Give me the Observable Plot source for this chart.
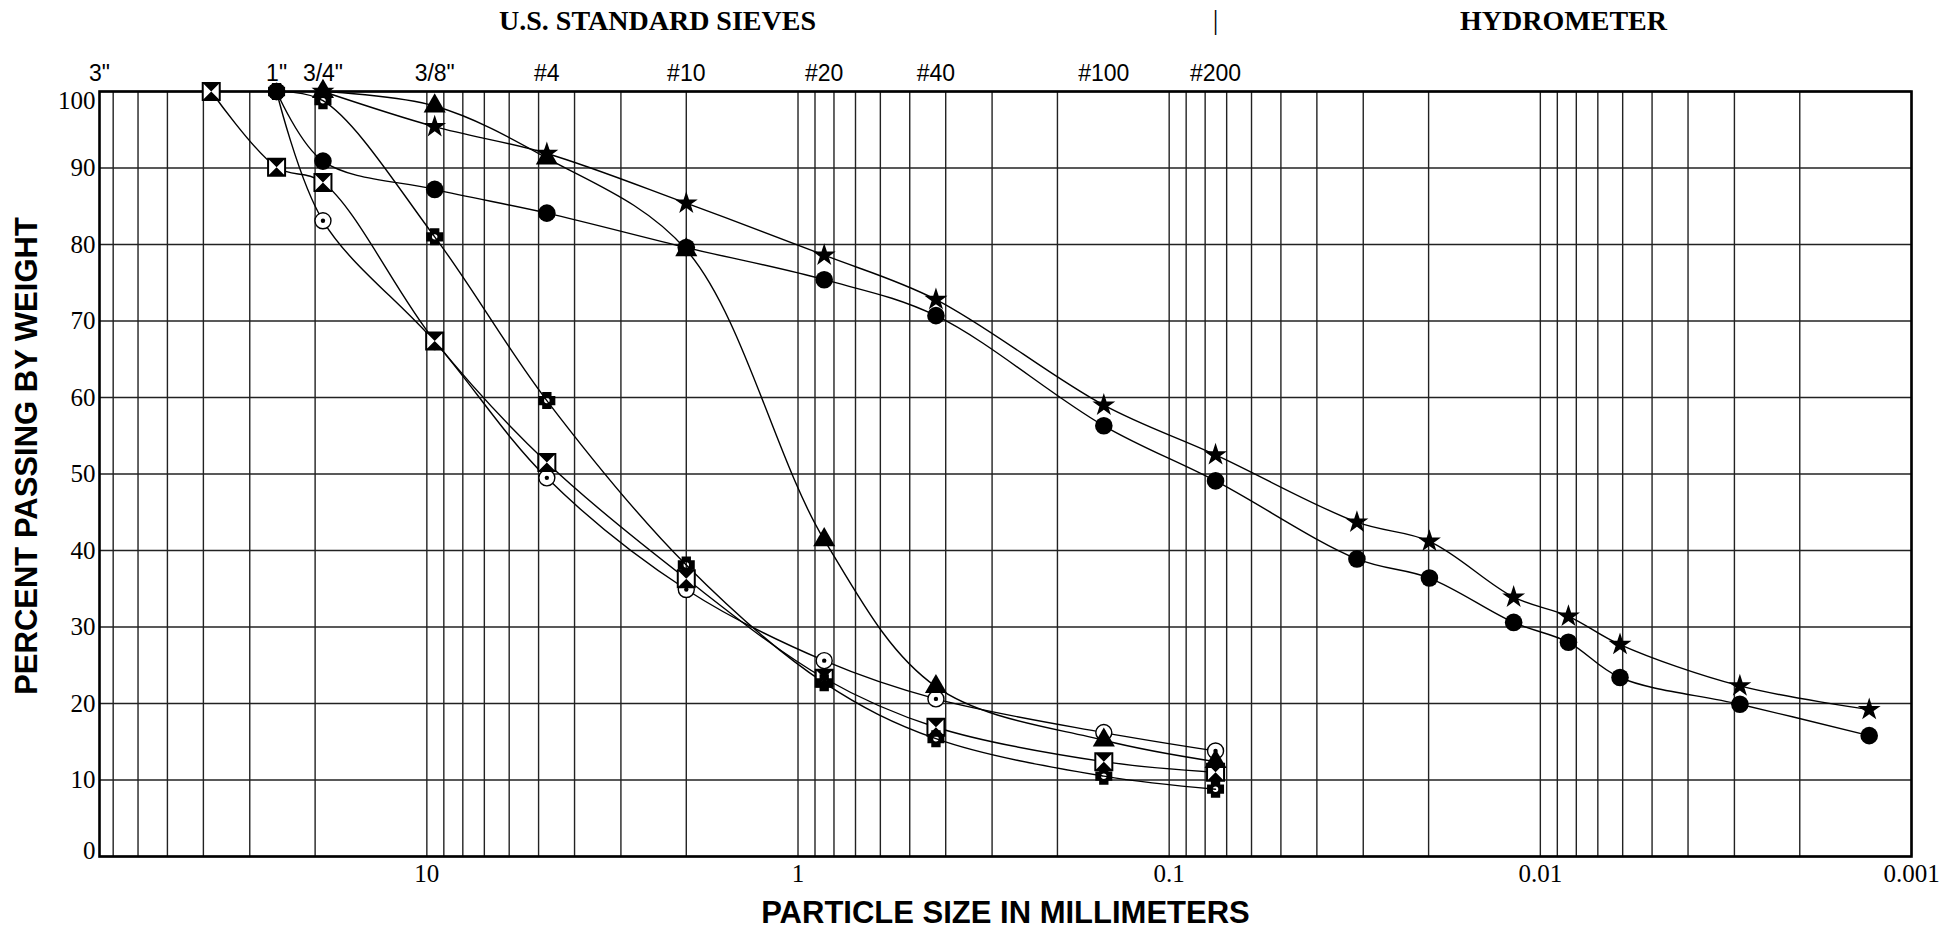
<!DOCTYPE html>
<html>
<head>
<meta charset="utf-8">
<script src="https://cdn.jsdelivr.net/npm/d3@7"></script>
<script src="https://cdn.jsdelivr.net/npm/@observablehq/plot@0.6"></script>
<style>
  html, body { margin: 0; padding: 0; background: #fff; }
  #chart svg { display: block; background: #fff; }
</style>
</head>
<body>
<div id="chart"></div>
<script>
// ---- axis / tick data ----
const yTicks = [0, 10, 20, 30, 40, 50, 60, 70, 80, 90, 100];
const xTickValues = [10, 1, 0.1, 0.01, 0.001];
const xTickLabels = ["10", "1", "0.1", "0.01", "0.001"];
const sieveLabels = ['3"', '1"', '3/4"', '3/8"', '#4', '#10', '#20', '#40', '#100', '#200'];
const sieveSizes = [76.2, 25.4, 19.05, 9.525, 4.75, 2.0, 0.85, 0.425, 0.15, 0.075];

// ---- sample particle sizes (mm) ----
const sampleSieves = [38.1, 25.4, 19.05, 9.525, 4.75, 2.0, 0.85, 0.425, 0.15, 0.075];
const hydroSizes = [0.0312, 0.0199, 0.0118, 0.0084, 0.0061, 0.0029, 0.0013];

// ---- percent passing, one array per sample (null = not tested) ----
const circleSieve   = [null, 100, 90.9, 87.2, 84.1, 79.6, 75.4, 70.7, 56.3, 49.1];
const circleHydro   = [38.9, 36.4, 30.6, 28.0, 23.4, 19.9, 15.8];
const starSieve     = [null, null, 100, 95.4, 91.9, 85.4, 78.6, 72.8, 59.0, 52.5];
const starHydro     = [43.7, 41.2, 33.9, 31.4, 27.7, 22.3, 19.2];
const triangleSieve = [null, null, 100, 98.1, 91.3, 79.3, 41.4, 22.2, 15.2, 12.4];
const plusSieve     = [null, 100, 98.8, 81.0, 59.6, 38.1, 22.7, 15.4, 10.5, 8.8];
const hourglassSieve= [100, 90.1, 88.1, 67.4, 51.5, 36.3, 23.3, 16.9, 12.4, 11.0];
const ringSieve     = [null, 100, 83.1, 67.3, 49.5, 34.9, 25.6, 20.6, 16.2, 13.8];

function build(name, sieveVals, hydroVals) {
  const out = [];
  sieveVals.forEach((v, i) => { if (v != null) out.push({series: name, size: sampleSieves[i], pct: v}); });
  (hydroVals || []).forEach((v, i) => { if (v != null) out.push({series: name, size: hydroSizes[i], pct: v}); });
  return out;
}
const circleData = build("circle", circleSieve, circleHydro);
const starData = build("star", starSieve, starHydro);
const triangleData = build("triangle", triangleSieve);
const plusData = build("plus", plusSieve);
const hourglassData = build("hourglass", hourglassSieve);
const ringData = build("ring", ringSieve);
const allData = [...circleData, ...starData, ...triangleData, ...plusData, ...hourglassData, ...ringData];

// ---- custom symbols ----
const hourglassSym = {
  draw(ctx, size) {
    const s = Math.sqrt(size / Math.PI);
    ctx.moveTo(-s, -s); ctx.lineTo(s, -s); ctx.lineTo(0, 0); ctx.closePath();
    ctx.moveTo(-s, s); ctx.lineTo(s, s); ctx.lineTo(0, 0); ctx.closePath();
  }
};
const squareSym = {
  draw(ctx, size) {
    const s = Math.sqrt(size / Math.PI);
    ctx.moveTo(-s, -s); ctx.lineTo(s, -s); ctx.lineTo(s, s); ctx.lineTo(-s, s); ctx.closePath();
  }
};
const plusSym = {
  draw(ctx, size) {
    const r = Math.sqrt(size / Math.PI);
    const a = 0.55 * r;
    const pts = [[-a,-r],[a,-r],[a,-a],[r,-a],[r,a],[a,a],[a,r],[-a,r],[-a,a],[-r,a],[-r,-a],[-a,-a]];
    ctx.moveTo(pts[0][0], pts[0][1]);
    for (let k = 1; k < pts.length; k++) ctx.lineTo(pts[k][0], pts[k][1]);
    ctx.closePath();
    const h = 0.32 * r;
    ctx.moveTo(h, 0);
    ctx.arc(0, 0, h, 0, 2 * Math.PI, true);
    ctx.closePath();
  }
};

const serif = "Liberation Serif, Times New Roman, serif";
const sans = "Liberation Sans, Arial, sans-serif";

const x0 = sieveSizes[0];
const xSplit = sieveSizes[sieveSizes.length - 1];
const xEnd = xTickValues[xTickValues.length - 1];
const headers = [
  {text: "U.S. STANDARD SIEVES", x: Math.sqrt(x0 * xSplit)},
  {text: "HYDROMETER", x: Math.sqrt(xSplit * xEnd)}
];

const plot = Plot.plot({
  width: 1944,
  height: 931,
  marginLeft: 99,
  marginRight: 33,
  marginTop: 91,
  marginBottom: 75,
  style: {background: "#fff", color: "#000"},
  x: {type: "log", domain: [x0, xEnd], axis: null},
  y: {domain: [0, 100], axis: null},
  marks: [
    Plot.gridX({ticks: 40, stroke: "#222", strokeOpacity: 1, strokeWidth: 1.4}),
    Plot.gridY(yTicks, {stroke: "#222", strokeOpacity: 1, strokeWidth: 1.4}),
    Plot.frame({stroke: "#000", strokeWidth: 2.6}),
    Plot.line(allData, {x: "size", y: "pct", z: "series", curve: "catmull-rom", stroke: "#000", strokeWidth: 1.4}),
    // circle with center dot
    Plot.dot(ringData, {x: "size", y: "pct", r: 8, fill: "#fff", stroke: "#000", strokeWidth: 1.4}),
    Plot.dot(ringData, {x: "size", y: "pct", r: 2.2, fill: "#000"}),
    // hourglass square
    Plot.dot(hourglassData, {x: "size", y: "pct", symbol: squareSym, r: 8.5, fill: "#fff", stroke: "#000", strokeWidth: 2}),
    Plot.dot(hourglassData, {x: "size", y: "pct", symbol: hourglassSym, r: 8.5, fill: "#000"}),
    // plus
    Plot.dot(plusData, {x: "size", y: "pct", symbol: plusSym, r: 8.5, fill: "#000"}),
    // star
    Plot.dot(starData, {x: "size", y: "pct", symbol: "star", r: 7.2, fill: "#000"}),
    // triangle
    Plot.dot(triangleData, {x: "size", y: "pct", symbol: "triangle", r: 8.2, fill: "#000"}),
    // filled circle
    Plot.dot(circleData, {x: "size", y: "pct", symbol: "circle", r: 8.8, fill: "#000"}),

    // y tick labels
    Plot.text(yTicks.filter(d => d > 0 && d < 100), {y: d => d, frameAnchor: "left", textAnchor: "end", dx: -4, text: d => String(d), fontSize: 25, fontFamily: serif}),
    Plot.text(yTicks.filter(d => d === 100), {y: d => d, frameAnchor: "left", textAnchor: "end", dx: -4, dy: 9, text: d => String(d), fontSize: 25, fontFamily: serif}),
    Plot.text(yTicks.filter(d => d === 0), {y: d => d, frameAnchor: "left", textAnchor: "end", dx: -4, dy: -6, text: d => String(d), fontSize: 25, fontFamily: serif}),
    // x tick labels
    Plot.text(xTickValues, {x: d => d, frameAnchor: "bottom", lineAnchor: "top", dy: 8, text: (d, i) => xTickLabels[i], fontSize: 25, fontFamily: serif}),
    // sieve labels
    Plot.text(sieveSizes, {x: d => d, frameAnchor: "top", lineAnchor: "bottom", dy: -11, text: (d, i) => sieveLabels[i], fontSize: 23, fontFamily: sans}),
    // section headers
    Plot.text(headers, {x: "x", text: "text", frameAnchor: "top", lineAnchor: "middle", dy: -70, fontSize: 28, fontWeight: "bold", fontFamily: serif}),
    Plot.text([xSplit], {x: d => d, text: () => "|", frameAnchor: "top", lineAnchor: "middle", dy: -71, fontSize: 28, fontFamily: serif}),
    // axis titles
    Plot.text(["PARTICLE SIZE IN MILLIMETERS"], {frameAnchor: "bottom", lineAnchor: "middle", dy: 57, fontSize: 31, fontWeight: "bold", fontFamily: sans}),
    Plot.text(["PERCENT PASSING BY WEIGHT"], {frameAnchor: "left", textAnchor: "middle", lineAnchor: "middle", rotate: -90, dx: -72, dy: -18, fontSize: 31, fontWeight: "bold", fontFamily: sans})
  ]
});
document.getElementById("chart").appendChild(plot);
</script>
</body>
</html>
